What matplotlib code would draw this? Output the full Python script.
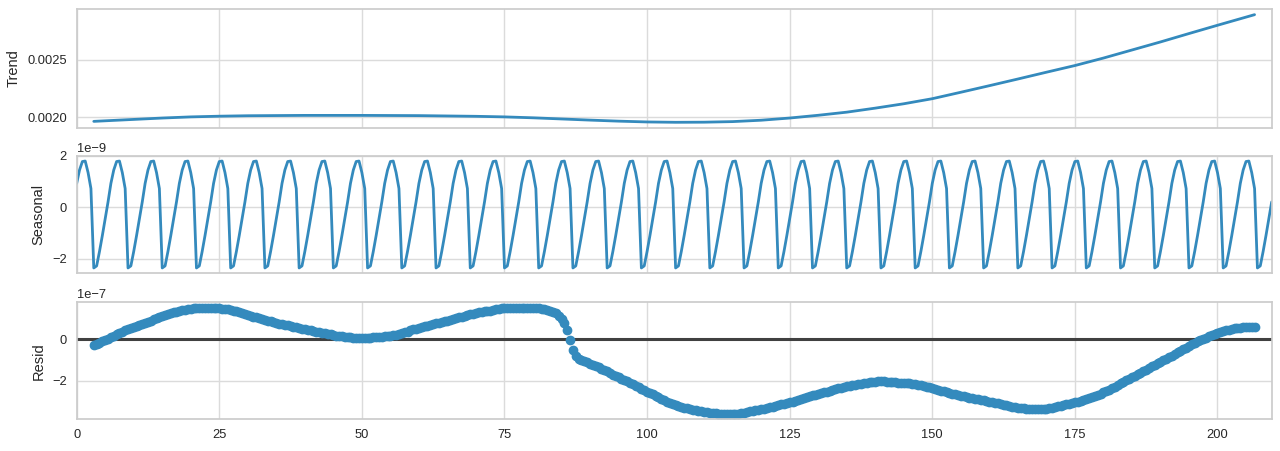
import numpy as np
import matplotlib
matplotlib.use("Agg")
import matplotlib.pyplot as plt
import seaborn as sns

# Trend component, x 1e-3
trend_x = [3, 5, 10, 15, 20, 25, 30, 40, 50, 60, 70, 75, 80, 85, 90, 95,
           100, 105, 110, 115, 120, 125, 130, 135, 140, 145, 150, 155, 160,
           165, 170, 175, 180, 185, 190, 195, 200, 206.5]
trend_y = [1.965, 1.970, 1.982, 1.994, 2.004, 2.010, 2.014, 2.017, 2.017,
           2.015, 2.009, 2.004, 1.996, 1.986, 1.976, 1.967, 1.960, 1.957,
           1.958, 1.963, 1.975, 1.994, 2.018, 2.045, 2.080, 2.118, 2.162,
           2.218, 2.275, 2.333, 2.392, 2.450, 2.515, 2.585, 2.655, 2.728,
           2.800, 2.892]

# Seasonal component: one period (12 samples, step 0.5), x 1e-9
season_period = [0.93, 1.45, 1.78, 1.80, 1.35, 0.73,
                 -2.36, -2.28, -1.72, -1.10, -0.45, 0.21]
n_periods = 35
step = 0.5

# Residuals at x = 3.0 .. 206.5 (step 0.5), x 1e-7
resid_start = 3.0
resid_y = [
    -0.27, -0.22, -0.17, -0.11, -0.05, 0.02, 0.10, 0.17, 0.24, 0.30,
    0.36, 0.42, 0.48, 0.54, 0.59, 0.64, 0.70, 0.75, 0.80, 0.85,
    0.90, 0.95, 1.00, 1.05, 1.10, 1.16, 1.21, 1.25, 1.29, 1.33,
    1.36, 1.39, 1.42, 1.44, 1.46, 1.48, 1.50, 1.51, 1.52, 1.51,
    1.50, 1.50, 1.50, 1.49, 1.49, 1.47, 1.45, 1.43, 1.40, 1.38,
    1.35, 1.32, 1.28, 1.23, 1.18, 1.13, 1.09, 1.05, 1.01, 0.97,
    0.93, 0.90, 0.87, 0.83, 0.79, 0.75, 0.72, 0.69, 0.66, 0.63,
    0.60, 0.58, 0.55, 0.51, 0.48, 0.45, 0.42, 0.39, 0.36, 0.33,
    0.31, 0.29, 0.27, 0.23, 0.20, 0.17, 0.15, 0.13, 0.11, 0.10,
    0.09, 0.08, 0.07, 0.07, 0.07, 0.07, 0.08, 0.08, 0.09, 0.09,
    0.10, 0.11, 0.13, 0.14, 0.16, 0.19, 0.22, 0.26, 0.30, 0.33,
    0.37, 0.42, 0.47, 0.51, 0.55, 0.59, 0.62, 0.65, 0.68, 0.72,
    0.76, 0.80, 0.84, 0.87, 0.90, 0.93, 0.97, 1.01, 1.05, 1.08,
    1.12, 1.15, 1.19, 1.23, 1.26, 1.29, 1.31, 1.34, 1.36, 1.38,
    1.40, 1.43, 1.45, 1.48, 1.50, 1.51, 1.52, 1.52, 1.52, 1.52,
    1.51, 1.51, 1.51, 1.51, 1.50, 1.49, 1.48, 1.46, 1.44, 1.41,
    1.38, 1.33, 1.25, 1.14, 0.98, 0.78, 0.45, -0.03, -0.52, -0.80,
    -0.96, -1.02, -1.07, -1.12, -1.18, -1.24, -1.30, -1.36, -1.42, -1.48,
    -1.55, -1.62, -1.70, -1.76, -1.83, -1.90, -1.97, -2.03, -2.10, -2.17,
    -2.24, -2.31, -2.38, -2.45, -2.52, -2.59, -2.66, -2.73, -2.80, -2.87,
    -2.94, -3.01, -3.07, -3.13, -3.18, -3.22, -3.26, -3.30, -3.33, -3.36,
    -3.39, -3.42, -3.45, -3.47, -3.49, -3.52, -3.54, -3.56, -3.57, -3.58,
    -3.59, -3.60, -3.60, -3.60, -3.60, -3.60, -3.59, -3.57, -3.55, -3.52,
    -3.48, -3.46, -3.43, -3.40, -3.37, -3.34, -3.31, -3.28, -3.25, -3.22,
    -3.18, -3.14, -3.10, -3.07, -3.03, -3.00, -2.96, -2.92, -2.88, -2.84,
    -2.79, -2.75, -2.71, -2.67, -2.63, -2.60, -2.56, -2.52, -2.48, -2.44,
    -2.40, -2.37, -2.33, -2.30, -2.27, -2.25, -2.22, -2.20, -2.18, -2.15,
    -2.13, -2.10, -2.08, -2.06, -2.05, -2.03, -2.02, -2.02, -2.04, -2.05,
    -2.07, -2.08, -2.09, -2.10, -2.11, -2.12, -2.13, -2.15, -2.17, -2.19,
    -2.22, -2.25, -2.29, -2.32, -2.36, -2.40, -2.43, -2.47, -2.51, -2.55,
    -2.58, -2.62, -2.65, -2.69, -2.72, -2.75, -2.78, -2.81, -2.84, -2.86,
    -2.89, -2.92, -2.95, -2.98, -3.01, -3.04, -3.06, -3.09, -3.12, -3.16,
    -3.19, -3.23, -3.26, -3.28, -3.30, -3.32, -3.33, -3.34, -3.35, -3.36,
    -3.36, -3.36, -3.36, -3.36, -3.35, -3.33, -3.30, -3.27, -3.24, -3.20,
    -3.17, -3.13, -3.10, -3.07, -3.04, -3.01, -2.97, -2.93, -2.88, -2.83,
    -2.78, -2.73, -2.67, -2.62, -2.56, -2.50, -2.43, -2.36, -2.28, -2.20,
    -2.13, -2.05, -1.98, -1.90, -1.83, -1.75, -1.68, -1.61, -1.54, -1.46,
    -1.39, -1.31, -1.24, -1.16, -1.09, -1.01, -0.94, -0.86, -0.79, -0.71,
    -0.64, -0.56, -0.48, -0.40, -0.33, -0.25, -0.18, -0.11, -0.05, 0.02,
    0.08, 0.14, 0.20, 0.26, 0.32, 0.36, 0.40, 0.43, 0.46, 0.49,
    0.52, 0.54, 0.55, 0.57, 0.58, 0.59, 0.60, 0.61,
]

BLUE = "#348ABD"

sns.set_theme(style="whitegrid")
plt.rcParams["font.family"] = ["Liberation Sans", "DejaVu Sans"]
plt.rcParams["xtick.labelsize"] = 9.3
plt.rcParams["ytick.labelsize"] = 9.3
plt.rcParams["axes.labelsize"] = 10.5
plt.rcParams["axes.edgecolor"] = "0.8"
plt.rcParams["grid.color"] = "0.86"

seasonal = np.tile(season_period, n_periods) * 1e-9
season_x = np.arange(len(seasonal)) * step
resid = np.array(resid_y) * 1e-7
resid_x = resid_start + np.arange(len(resid_y)) * step

fig = plt.figure(figsize=(12.8, 4.51), dpi=100)
left, width = 0.0599, 0.9336
ax1 = fig.add_axes([left, 0.7169, width, 0.2625])
ax2 = fig.add_axes([left, 0.3940, width, 0.2608], sharex=ax1)
ax3 = fig.add_axes([left, 0.0703, width, 0.2594], sharex=ax1)

ax1.plot(trend_x, np.array(trend_y) * 1e-3, color=BLUE, lw=2)
ax1.set_ylabel("Trend")

ax2.plot(season_x, seasonal, color=BLUE, lw=2)
ax2.set_ylabel("Seasonal")

xmax = season_x[-1]
ax3.plot([0, xmax], [0, 0], color="#404040", lw=2.2, zorder=1)
ax3.plot(resid_x, resid, marker="o", linestyle="none", color=BLUE,
         markersize=6, zorder=2)
ax3.set_ylabel("Resid")

for ax in (ax1, ax2, ax3):
    ax.set_xlim(0, xmax)
    ax.tick_params(axis="both", length=0, pad=7)
    ax.yaxis.labelpad = 5
for ax in (ax1, ax2):
    ax.tick_params(labelbottom=False)

ax1.set_yticks([0.0020, 0.0025])
ax1.set_yticklabels(["0.0020", "0.0025"])
ax2.set_yticks([-2e-9, 0, 2e-9])
ax3.set_yticks([-2e-7, 0])
ax3.set_xticks([0, 25, 50, 75, 100, 125, 150, 175, 200])
ax2.yaxis.get_offset_text().set_fontsize(9.3)
ax3.yaxis.get_offset_text().set_fontsize(9.3)

fig.savefig("out.png", dpi=100, facecolor="white")
